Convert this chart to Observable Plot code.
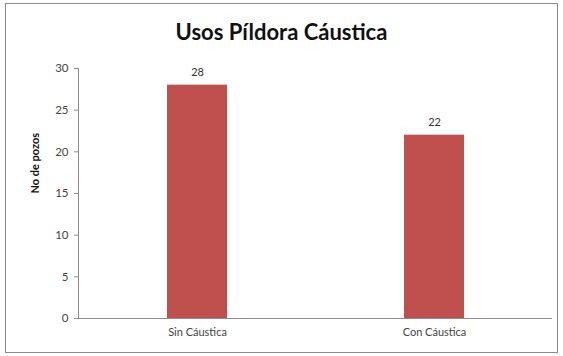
<!DOCTYPE html>
<html>
<head>
<meta charset="utf-8">
<script src="https://cdn.jsdelivr.net/npm/d3@7"></script>
<script src="https://cdn.jsdelivr.net/npm/@observablehq/plot@0.6"></script>
<style>
  body { margin: 0; background: #fff; }
  #wrap { position: relative; width: 563px; height: 356px; overflow: hidden; font-family: Lato, "Open Sans", sans-serif; }
  #frame { position: absolute; left: 5px; top: 3px; width: 551px; height: 348px; border: 1px solid #8c8c8c; box-sizing: content-box; }
  #title { position: absolute; left: 0; top: 18px; width: 563px; text-align: center; font-size: 22px; font-weight: bold; color: #111; }
  #chart { position: absolute; left: 0; top: 50px; }
</style>
</head>
<body>
<div id="wrap">
  <div id="frame"></div>
  <div id="title">Usos Píldora Cáustica</div>
  <div id="chart"></div>
</div>
<script>
const categories = ["Sin Cáustica", "Con Cáustica"];
const values = [28, 22];
const yTicks = [0, 5, 10, 15, 20, 25, 30];
const yLabel = "No de pozos";

const data = categories.map((c, i) => ({category: c, value: values[i]}));

const chart = Plot.plot({
  width: 563,
  height: 306,
  marginTop: 18,
  marginBottom: 38,
  marginLeft: 78,
  marginRight: 11,
  style: {fontFamily: "Lato, 'Open Sans', sans-serif", fontSize: "11px", color: "#444", background: "transparent"},
  x: {domain: categories, paddingInner: 0.747, paddingOuter: 0.3735, label: null},
  y: {domain: [0, 30], ticks: yTicks, label: null},
  marks: [
    Plot.barY(data, {x: "category", y: "value", fill: "#C0504D"}),
    Plot.ruleY([0], {stroke: "#8c8c8c"}),
    Plot.frame({anchor: "left", stroke: "#8c8c8c"}),
    Plot.axisY({ticks: yTicks, tickSize: 4, tickPadding: 6, stroke: "#8c8c8c", fontSize: 11.5, label: null}),
    Plot.axisX({tickSize: 0, tickPadding: 10, fontSize: 11, label: null}),
    Plot.text(data, {x: "category", y: "value", text: d => String(d.value), dy: -13, fontSize: 11, fill: "#333"}),
    Plot.text([yLabel], {frameAnchor: "left", dx: -43, rotate: -90, fontWeight: "bold", fontSize: 11, fill: "#111"})
  ]
});
document.getElementById("chart").appendChild(chart);
</script>
</body>
</html>
